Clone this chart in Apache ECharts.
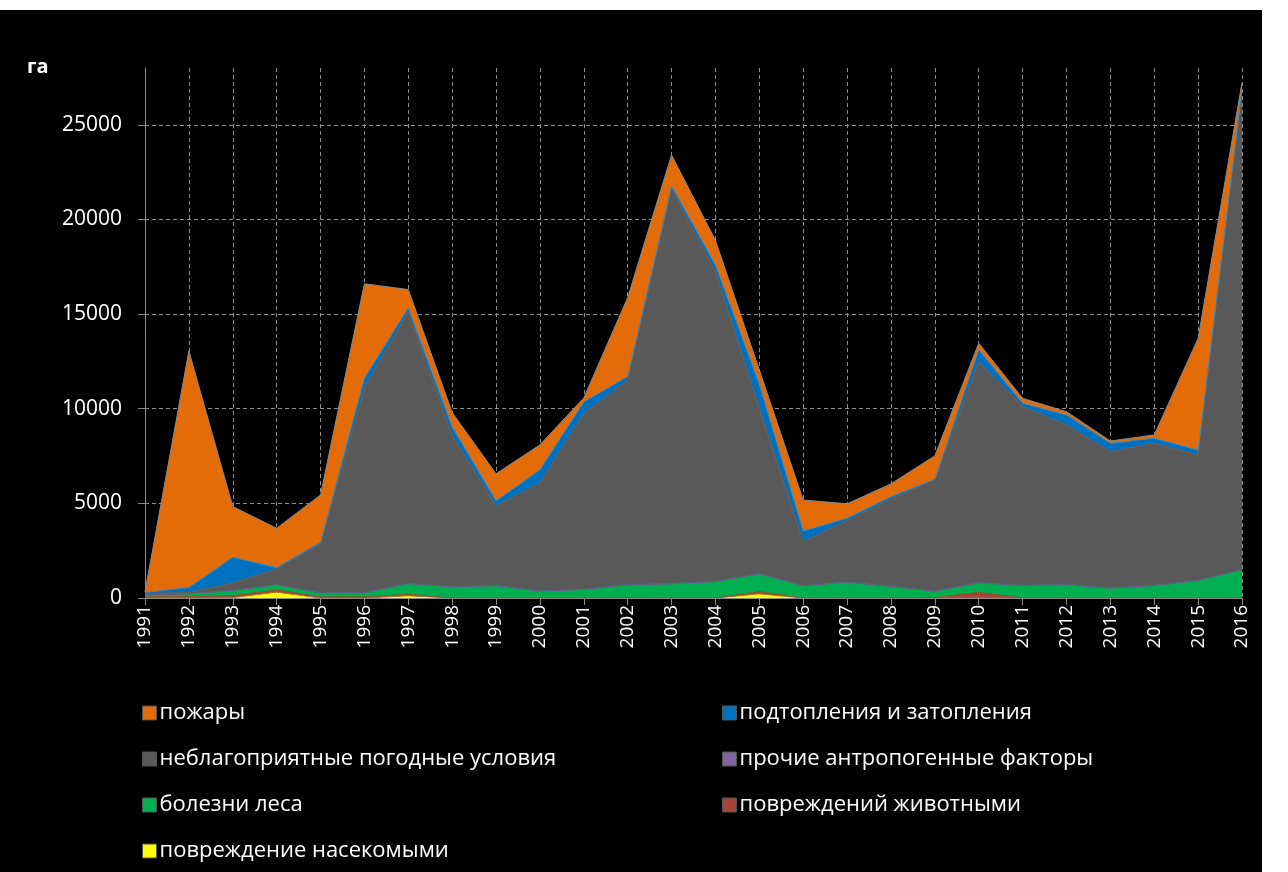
<!DOCTYPE html>
<html>
<head>
<meta charset="utf-8">
<script src="https://cdn.jsdelivr.net/npm/echarts@6/dist/echarts.min.js"></script>
<style>
  html, body { margin: 0; padding: 0; background: #fff; }
  #chart { width: 1288px; height: 872px; }
</style>
</head>
<body>
<div id="chart"></div>
<script>
// годы
var years = ['1991', '1992', '1993', '1994', '1995', '1996', '1997', '1998', '1999', '2000',
  '2001', '2002', '2003', '2004', '2005', '2006', '2007', '2008', '2009', '2010',
  '2011', '2012', '2013', '2014', '2015', '2016']

// площадь, га (снизу вверх по стеку)
var insects = [0, 0, 20, 310, 0, 0, 120, 0, 0, 0, 0, 0, 0, 0, 220, 0, 0, 0, 0, 0, 0, 0, 0, 0, 0, 0]
var animals = [60, 90, 100, 120, 60, 60, 80, 0, 0, 0, 0, 20, 0, 0, 120, 0, 0, 0, 20, 300, 0, 0, 0, 0, 0, 0]
var disease = [110, 130, 280, 265, 210, 220, 560, 590, 650, 360, 450, 680, 750, 870, 940, 640, 835, 610, 340, 500, 660, 710, 520, 660, 925, 1500]
var otherHuman = [0, 0, 0, 0, 0, 0, 0, 0, 0, 0, 0, 0, 0, 0, 0, 0, 0, 0, 0, 0, 0, 0, 0, 0, 0, 0]
var weather = [80, 60, 390, 840, 2580, 10800, 14350, 7970, 4210, 5720, 9275, 10800, 20850, 16370, 8720, 2330, 3250, 4620, 5880, 11690, 9450, 8430, 7210, 7510, 6630, 25350]
var flooding = [40, 270, 1360, 70, 90, 530, 215, 480, 270, 690, 635, 200, 175, 355, 1300, 565, 130, 120, 40, 620, 180, 530, 440, 270, 260, 30]
var fires = [40, 12500, 2680, 2080, 2500, 4990, 970, 760, 1430, 1320, 210, 4170, 1625, 1300, 750, 1640, 760, 680, 1230, 350, 260, 175, 125, 175, 5900, 350]

var yTicks = { min: 0, max: 28000, step: 5000 }

var fontName = '"Open Sans", "Noto Sans", sans-serif'

function areaSeries(name, data, color, edge) {
  return {
    name: name,
    type: 'line',
    stack: 'total',
    data: data,
    symbol: 'none',
    color: color,
    itemStyle: { color: color },
    lineStyle: { width: 1, color: edge },
    areaStyle: { color: color, opacity: 1 },
    emphasis: { disabled: true }
  }
}

var legendBase = {
  orient: 'vertical',
  top: 697,
  itemGap: 24,
  itemWidth: 14,
  itemHeight: 14,
  icon: 'rect',
  itemStyle: { borderWidth: 1, borderColor: '#555' },
  textStyle: { color: '#fff', fontSize: 22, fontFamily: fontName, padding: [0, 0, 0, -2] }
}

var chart = echarts.init(document.getElementById('chart'))
chart.setOption({
  animation: false,
  backgroundColor: '#fff',
  graphic: [
    {
      type: 'rect',
      left: 0,
      top: 10,
      z: -10,
      shape: { width: 1262, height: 862 },
      style: { fill: '#000' }
    },
    {
      type: 'text',
      left: 27,
      top: 57,
      style: { text: 'га', font: 'bold 20px ' + fontName, fill: '#fff' }
    }
  ],
  grid: { left: 145, right: 46, top: 68, bottom: 274 },
  legend: [
    Object.assign({}, legendBase, {
      left: 137,
      data: ['пожары', 'неблагоприятные погодные условия', 'болезни леса', 'повреждение насекомыми']
    }),
    Object.assign({}, legendBase, {
      left: 717,
      data: ['подтопления и затопления', 'прочие антропогенные факторы', 'повреждений животными']
    })
  ],
  xAxis: {
    type: 'category',
    data: years,
    boundaryGap: false,
    axisLine: { lineStyle: { color: '#8c8c8c', width: 1 } },
    axisTick: { show: true, alignWithLabel: true, length: 7, lineStyle: { color: '#8c8c8c' } },
    axisLabel: { color: '#fff', fontSize: 19, fontFamily: fontName, rotate: 90, margin: 7, interval: 0 },
    splitLine: { show: true, lineStyle: { color: '#8c8c8c', type: [4, 3], width: 1 } }
  },
  yAxis: {
    type: 'value',
    min: yTicks.min,
    max: yTicks.max,
    interval: yTicks.step,
    axisLine: { show: true, lineStyle: { color: '#8c8c8c', width: 1 } },
    axisTick: { show: true, length: 7, lineStyle: { color: '#8c8c8c' } },
    axisLabel: {
      color: '#fff', fontSize: 21, fontFamily: fontName, margin: 23,
      showMaxLabel: false,
      formatter: function (v) { return v % yTicks.step === 0 ? String(v) : '' }
    },
    splitLine: { show: true, showMaxLine: false, lineStyle: { color: '#8c8c8c', type: [4, 3], width: 1 } }
  },
  series: [
    areaSeries('повреждение насекомыми', insects, '#ffff00', '#b07a30'),
    areaSeries('повреждений животными', animals, '#a8433b', '#8b5a2b'),
    areaSeries('болезни леса', disease, '#00b050', '#2f8f7a'),
    areaSeries('прочие антропогенные факторы', otherHuman, '#8064a2', '#6b5a88'),
    areaSeries('неблагоприятные погодные условия', weather, '#595959', '#7a6450'),
    areaSeries('подтопления и затопления', flooding, '#0070c0', '#3c8fc8'),
    areaSeries('пожары', fires, '#e36c09', '#8a8a8a')
  ]
})
</script>
</body>
</html>
